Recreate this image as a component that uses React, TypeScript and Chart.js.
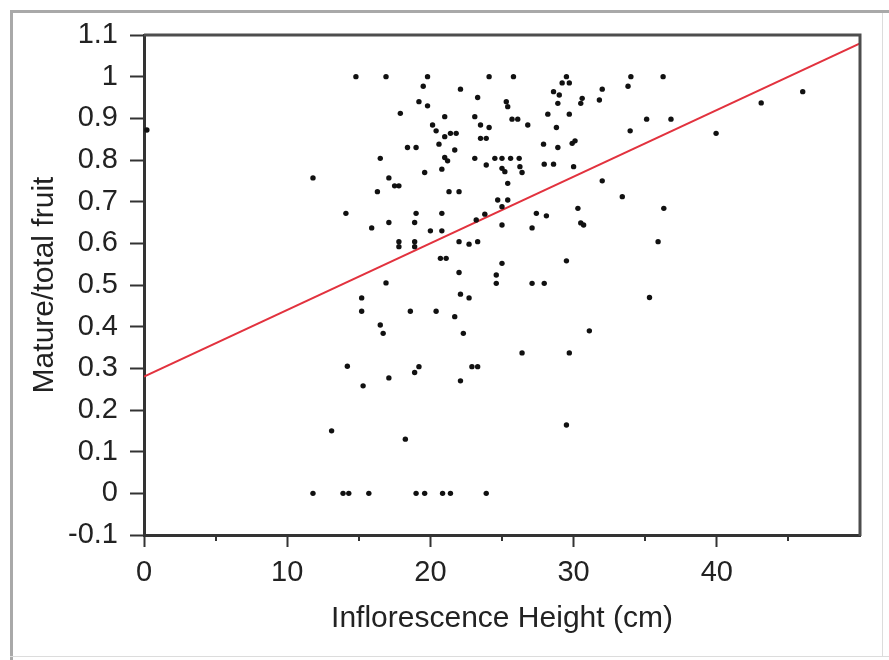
import React, { useEffect, useRef } from "react";
import { Chart, registerables } from "chart.js";

Chart.register(...registerables);

// Inflorescence height (cm) for each plant
const heightCm = [
  34.0, 36.25, 32.0, 33.8, 31.8, 35.1, 36.8, 33.95, 43.1, 46.0, 39.95, 32.0, 33.4, 36.3, 35.9, 35.3, 31.1,
  14.8, 16.9, 19.8, 24.1, 25.8, 29.5, 19.5, 22.1, 29.2, 29.7, 23.3, 28.6, 29.0, 28.9, 25.3, 25.4, 30.6, 30.5,
  19.2, 19.8, 17.9, 21.0, 23.1, 25.7, 26.1, 26.8, 28.2, 29.7, 23.5, 24.1, 20.15, 20.4, 28.8, 21.0, 21.4, 21.8,
  23.5, 23.9, 18.4, 19.0, 20.6, 21.7, 27.9, 28.9, 29.9, 30.1, 16.5, 21.0, 21.2, 23.1, 24.5, 25.0, 25.6, 26.2,
  23.9, 25.0, 25.2, 26.25, 26.4, 27.95, 28.6, 30.0, 20.8, 19.6, 11.8, 17.1, 17.5, 17.8, 16.3, 21.3, 22.0, 25.4,
  24.7, 25.4, 25.0, 30.3, 14.1, 19.0, 20.8, 23.8, 27.4, 28.1,
  23.2, 30.5, 30.7, 15.9, 17.1, 18.9, 20.0, 20.8, 25.0, 27.1, 17.8, 17.8, 18.9, 18.9, 22.0, 22.7, 23.3, 20.7,
  21.1, 25.0, 29.5, 16.9, 22.0, 24.6, 24.6, 27.1, 27.95, 15.2, 22.1, 22.7, 15.2, 18.6, 20.4, 21.7, 16.5, 16.7,
  22.3, 26.4, 29.7,
  14.2, 15.3, 17.1, 18.9, 19.2, 22.9, 23.3, 22.1, 29.5, 13.1, 18.25,
  11.8, 13.9, 14.3, 15.7, 19.0, 19.6, 20.85, 21.4, 23.9, 0.2,
];

// Mature / total fruit ratio for each plant (same order)
const matureRatio = [
  1.0, 1.0, 0.97, 0.977, 0.944, 0.898, 0.898, 0.87, 0.937, 0.964, 0.864, 0.75, 0.712, 0.684, 0.604, 0.47, 0.39,
  1.0, 1.0, 1.0, 1.0, 1.0, 1.0, 0.977, 0.97, 0.985, 0.985, 0.95, 0.964, 0.956, 0.936, 0.94, 0.928, 0.948, 0.936,
  0.94, 0.93, 0.912, 0.904, 0.904, 0.898, 0.898, 0.884, 0.91, 0.91, 0.884, 0.878, 0.884, 0.87, 0.878, 0.856, 0.864, 0.864,
  0.852, 0.852, 0.83, 0.83, 0.838, 0.824, 0.838, 0.83, 0.84, 0.846, 0.804, 0.806, 0.798, 0.804, 0.804, 0.804, 0.804, 0.804,
  0.788, 0.78, 0.772, 0.784, 0.77, 0.79, 0.79, 0.784, 0.778, 0.77, 0.757, 0.757, 0.738, 0.738, 0.724, 0.724, 0.724, 0.744,
  0.704, 0.704, 0.688, 0.684, 0.672, 0.672, 0.672, 0.67, 0.672, 0.666,
  0.656, 0.649, 0.644, 0.637, 0.65, 0.65, 0.63, 0.63, 0.644, 0.637, 0.604, 0.592, 0.604, 0.592, 0.604, 0.598, 0.604, 0.564,
  0.564, 0.552, 0.558, 0.505, 0.53, 0.524, 0.504, 0.504, 0.504, 0.469, 0.478, 0.469, 0.437, 0.437, 0.437, 0.424, 0.404, 0.384,
  0.384, 0.337, 0.337,
  0.305, 0.258, 0.277, 0.29, 0.304, 0.304, 0.304, 0.27, 0.164, 0.15, 0.13,
  0, 0, 0, 0, 0, 0, 0, 0, 0, 0.872,
];

// Fitted regression line end points
const fitX = [0, 50];
const fitY = [0.28, 1.08];

// Axis ticks
const xMajorTicks = [0, 10, 20, 30, 40];
const xMinorTicks = [5, 15, 25, 35, 45];
const yTicks = [-0.1, 0, 0.1, 0.2, 0.3, 0.4, 0.5, 0.6, 0.7, 0.8, 0.9, 1.0, 1.1];

const xTitle = "Inflorescence Height (cm)";
const yTitle = "Mature/total fruit";

const FONT = "'Liberation Sans', Arial, sans-serif";

const framePlugin = {
  id: "framePlugin",
  beforeDraw(chart: any) {
    const { ctx, width, height } = chart;
    ctx.save();
    ctx.fillStyle = "#ffffff";
    ctx.fillRect(0, 0, width, height);
    // outer picture frame
    ctx.fillStyle = "#a9a9a9";
    ctx.fillRect(10, 10, width - 10, 3);
    ctx.fillRect(10, 10, 3, height - 10);
    ctx.fillStyle = "#dcdcdc";
    ctx.fillRect(10, 656, width - 10, 1);
    ctx.fillRect(882, 13, 1, 643);
    ctx.restore();
  },
  afterDraw(chart: any) {
    const { ctx, chartArea } = chart;
    const xs = chart.scales.x;
    ctx.save();
    // top & right box lines
    ctx.strokeStyle = "#4d4d4d";
    ctx.lineWidth = 3;
    ctx.beginPath();
    ctx.moveTo(chartArea.left, chartArea.top);
    ctx.lineTo(chartArea.right, chartArea.top);
    ctx.lineTo(chartArea.right, chartArea.bottom + 1);
    ctx.stroke();
    // minor x tick marks
    ctx.strokeStyle = "#333333";
    ctx.lineWidth = 2;
    ctx.beginPath();
    for (const v of xMinorTicks) {
      const px = Math.round(xs.getPixelForValue(v));
      ctx.moveTo(px, chartArea.bottom);
      ctx.lineTo(px, chartArea.bottom + 6);
    }
    ctx.stroke();
    ctx.restore();
  },
};

export default function App() {
  const ref = useRef<HTMLCanvasElement | null>(null);

  useEffect(() => {
    if (!ref.current) return;
    const points = heightCm.map((x, i) => ({ x, y: matureRatio[i] }));
    const fit = fitX.map((x, i) => ({ x, y: fitY[i] }));
    const chart = new Chart(ref.current, {
      type: "scatter",
      data: {
        datasets: [
          {
            type: "scatter",
            data: points,
            pointRadius: 2.7,
            pointHoverRadius: 2.7,
            backgroundColor: "#111111",
            borderWidth: 0,
            order: 1,
          } as any,
          {
            type: "line",
            data: fit,
            borderColor: "#e2323e",
            borderWidth: 2,
            pointRadius: 0,
            fill: false,
            order: 2,
          } as any,
        ],
      },
      plugins: [framePlugin],
      options: {
        animation: false,
        responsive: false,
        devicePixelRatio: 1,
        layout: { padding: { left: 0, top: 35, right: 29, bottom: 0 } },
        plugins: { legend: { display: false }, tooltip: { enabled: false } },
        scales: {
          x: {
            type: "linear",
            min: 0,
            max: 50,
            afterBuildTicks: (scale: any) => {
              scale.ticks = xMajorTicks.map((v) => ({ value: v }));
            },
            afterFit: (scale: any) => {
              scale.height = 125;
            },
            ticks: {
              padding: 9,
              color: "#222222",
              font: { family: FONT, size: 29 },
              maxRotation: 0,
              autoSkip: false,
              callback: (v: any) => String(v),
            },
            grid: {
              drawOnChartArea: false,
              drawTicks: true,
              tickLength: 12,
              tickColor: "#333333",
              tickWidth: 2,
            },
            border: { display: true, color: "#333333", width: 3 },
            title: {
              display: true,
              text: xTitle,
              color: "#222222",
              font: { family: FONT, size: 30 },
              padding: { top: 0, bottom: 23 },
            },
          },
          y: {
            type: "linear",
            min: -0.1,
            max: 1.1,
            afterBuildTicks: (scale: any) => {
              scale.ticks = yTicks.map((v) => ({ value: v }));
            },
            afterFit: (scale: any) => {
              scale.width = 144;
            },
            ticks: {
              padding: 12,
              color: "#222222",
              font: { family: FONT, size: 29 },
              autoSkip: false,
              callback: (v: any) => String(Math.round(Number(v) * 10) / 10),
            },
            grid: {
              drawOnChartArea: false,
              drawTicks: true,
              tickLength: 14,
              tickColor: "#333333",
              tickWidth: 2,
            },
            border: { display: true, color: "#333333", width: 3 },
            title: {
              display: true,
              text: yTitle,
              color: "#222222",
              font: { family: FONT, size: 30 },
              padding: { top: 27, bottom: 0 },
            },
          },
        },
      },
    });
    return () => chart.destroy();
  }, []);

  return (
    <div style={{ position: "absolute", left: 0, top: 0, width: 889, height: 660 }}>
      <canvas ref={ref} width={889} height={660} style={{ display: "block" }} />
    </div>
  );
}
